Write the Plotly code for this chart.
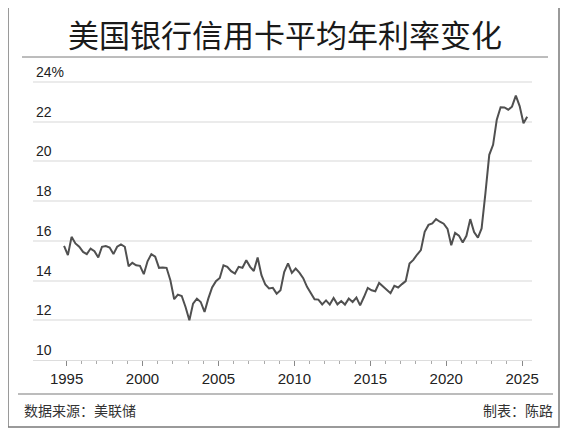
import pandas as pd
import plotly.graph_objects as go

# 季度数据（1994年11月 - 2025年5月），单位 %
quarters = pd.date_range("1994-11-01", periods=123, freq="3MS")
rate = [
    15.74,
    15.28, 16.20, 15.87, 15.70,   # 1995
    15.44, 15.33, 15.61, 15.48,   # 1996
    15.16, 15.70, 15.74, 15.66,   # 1997
    15.33, 15.70, 15.82, 15.70,   # 1998
    14.72, 14.89, 14.77, 14.74,   # 1999
    14.32, 14.97, 15.33, 15.20,   # 2000
    14.64, 14.66, 14.64, 14.02,   # 2001
    13.06, 13.29, 13.22, 12.67,   # 2002
    12.00, 12.84, 13.09, 12.92,   # 2003
    12.42, 13.09, 13.65, 13.97,   # 2004
    14.13, 14.77, 14.69, 14.47,   # 2005
    14.35, 14.69, 14.64, 15.02,   # 2006
    14.69, 14.48, 15.16, 14.27,   # 2007
    13.80, 13.60, 13.63, 13.34,   # 2008
    13.51, 14.43, 14.86, 14.38,   # 2009
    14.60, 14.40, 14.12, 13.68,   # 2010
    13.34, 13.06, 13.04, 12.80,   # 2011
    13.00, 12.79, 13.12, 12.80,   # 2012
    12.97, 12.79, 13.09, 12.92,   # 2013
    13.14, 12.75, 13.17, 13.63,   # 2014
    13.51, 13.46, 13.88, 13.71,   # 2015
    13.55, 13.36, 13.73, 13.65,   # 2016
    13.82, 13.97, 14.86, 15.04,   # 2017
    15.31, 15.53, 16.45, 16.80,   # 2018
    16.88, 17.09, 16.96, 16.86,   # 2019
    16.60, 15.78, 16.40, 16.26,   # 2020
    15.91, 16.25, 17.09, 16.44,   # 2021
    16.16, 16.62, 18.40, 20.33,   # 2022
    20.83, 22.10, 22.72, 22.71,   # 2023
    22.60, 22.75, 23.31, 22.78,   # 2024
    21.92, 22.24,                 # 2025
]

y_ticks = [10, 12, 14, 16, 18, 20, 22, 24]
y_labels = ["10", "12", "14", "16", "18", "20", "22", "24%"]

title = "美国银行信用卡平均年利率变化"
source = "数据来源：美联储"
maker = "制表：陈路"

# 页面 body 默认有 8px 边距，所有位置按窗口坐标减去 OFF
OFF = 8
W, H = 569 - OFF, 433 - OFF
L, R = 33 - OFF, 532 - OFF          # 绘图区左右
T, B = 62 - OFF, 360 - OFF          # 绘图区上下（y 轴 10 → 25）


def px(x):
    return (x - OFF - L) / (R - L)


def py(y):
    return (B - (y - OFF)) / (B - T)


fig = go.Figure(go.Scatter(
    x=quarters, y=rate, mode="lines",
    line=dict(color="#505050", width=2),
    hoverinfo="x+y",
))

line_col = "#7a7a7a"
fig.update_layout(
    width=W, height=H,
    margin=dict(l=L, r=W - R, t=T, b=H - B),
    paper_bgcolor="white", plot_bgcolor="white",
    showlegend=False,
    font=dict(family="Liberation Sans, Arial", size=15, color="#222222"),
    xaxis=dict(
        type="date",
        range=["1992-10-15", "2025-08-25"],
        tick0="1995-01-01", dtick="M60", tickformat="%Y",
        showgrid=False, zeroline=False,
        showline=True, linecolor="#dddddd", linewidth=1,
        ticks="outside", ticklen=5, tickcolor="#888888", tickwidth=1,
        minor=dict(dtick="M12", ticks="outside", ticklen=3,
                   tickcolor="#aaaaaa", tickwidth=1),
        tickfont=dict(size=15, color="#222222"),
    ),
    yaxis=dict(
        range=[10, 25],
        tickvals=y_ticks, ticktext=y_labels,
        ticklabelposition="inside top",
        showgrid=True, gridcolor="#ebebeb", gridwidth=1.5,
        zeroline=False, showline=False, ticks="",
        tickfont=dict(size=14, color="#222222"),
    ),
    shapes=[
        # 外框
        dict(type="rect", xref="paper", yref="paper",
             x0=px(8), x1=px(559), y0=py(427), y1=py(6),
             line=dict(color=line_col, width=1.5)),
        # 标题下横线
        dict(type="line", xref="paper", yref="paper",
             x0=px(22), x1=px(548), y0=py(57), y1=py(57),
             line=dict(color=line_col, width=1)),
        # 底部横线
        dict(type="line", xref="paper", yref="paper",
             x0=px(18), x1=px(553), y0=py(394), y1=py(394),
             line=dict(color=line_col, width=1.2)),
    ],
    annotations=[
        dict(text=title, xref="paper", yref="paper",
             x=px(285), y=py(33), xanchor="center", yanchor="middle",
             showarrow=False,
             font=dict(family="Noto Sans CJK SC", size=31, color="#1a1a1a")),
        dict(text=source, xref="paper", yref="paper",
             x=px(22), y=py(410), xanchor="left", yanchor="middle",
             showarrow=False,
             font=dict(family="Noto Sans CJK SC", size=14, color="#333333")),
        dict(text=maker, xref="paper", yref="paper",
             x=px(555), y=py(410), xanchor="right", yanchor="middle",
             showarrow=False,
             font=dict(family="Noto Sans CJK SC", size=14, color="#333333")),
    ],
)

fig.write_html("out.html")
